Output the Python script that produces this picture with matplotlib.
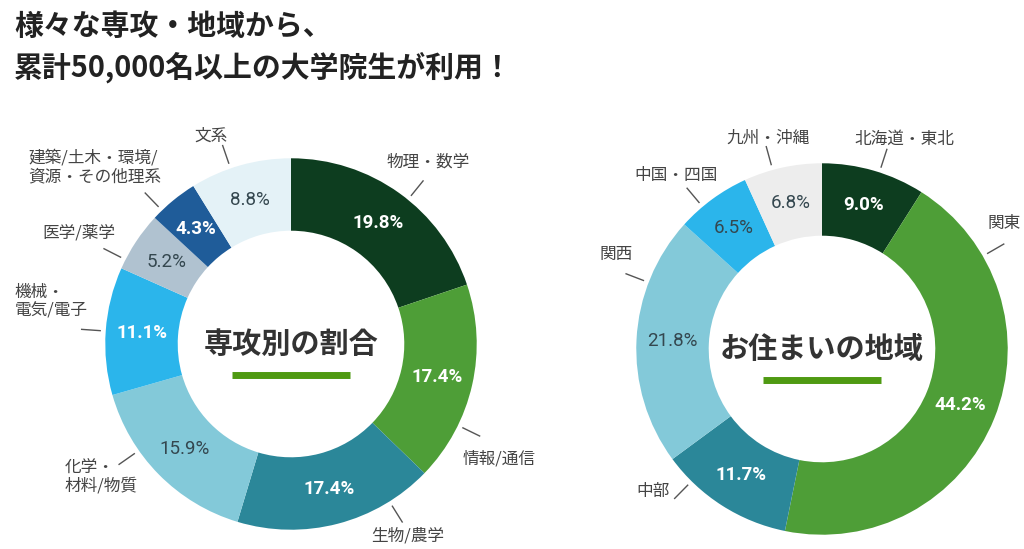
import numpy as np
import matplotlib
matplotlib.use("Agg")
import matplotlib.pyplot as plt

plt.rcParams['font.family'] = ['Noto Sans CJK JP', 'DejaVu Sans']

# 専攻別の割合
major_labels = ["物理・数学", "情報/通信", "生物/農学", "化学・\n材料/物質", "機械・\n電気/電子",
                "医学/薬学", "建築/土木・環境/\n資源・その他理系", "文系"]
major_values = [19.8, 17.4, 17.4, 15.9, 11.1, 5.2, 4.3, 8.8]
major_colors = ["#0d3d1f", "#4e9e37", "#2b8799", "#83c9d9", "#2bb5eb", "#b0c2d0", "#1f5c99", "#e4f2f7"]
major_pct_dark = [False, False, False, True, False, True, False, True]

# お住まいの地域
region_labels = ["北海道・東北", "関東", "中部", "関西", "中国・四国", "九州・沖縄"]
region_values = [9.0, 44.2, 11.7, 21.8, 6.5, 6.8]
region_colors = ["#0d3d1f", "#4e9e37", "#2b8799", "#83c9d9", "#2bb5eb", "#ededed"]
region_pct_dark = [False, False, False, True, True, True]

# label layout: (leader angle, text angle, text radius) - degrees clockwise from top
major_layout = [(39, 37, 1.23), (116, 119, 1.28), (148, 148.6, 1.21), (235, 235, 1.25),
                (274, 280, 1.31), (297, 297.5, 1.29), (316, 312, 1.42), (341, 339, 1.2)]
region_layout = [(18, 21.4, 1.21), (60, 55.4, 1.19), (224.6, 229.8, 1.19), (291, 294.7, 1.22),
                 (320, 320, 1.22), (344.6, 345.5, 1.17)]

W, H = 1024, 549
HALF = 260
LIM = 1.4
RING = 0.39


def polar(theta_deg, r):
    t = np.deg2rad(theta_deg)
    return r * np.sin(t), r * np.cos(t)


def donut(cx, cy, labels, values, colors, pct_dark, layout, title, ul_y):
    ax = plt.gcf().add_axes([(cx - HALF) / W, (H - cy - HALF) / H, 2 * HALF / W, 2 * HALF / H])
    wedges, _ = ax.pie(values, colors=colors, startangle=90, counterclock=False, radius=1,
                       wedgeprops=dict(width=RING, linewidth=0))
    ax.set_xlim(-LIM, LIM)
    ax.set_ylim(-LIM, LIM)
    ax.set_aspect("equal")
    ax.axis("off")
    total = sum(values)
    start = 0
    for i, v in enumerate(values):
        mid = (start + v / 2) / total * 360
        start += v
        x, y = polar(mid, 1 - RING / 2)
        if pct_dark[i]:
            ax.text(x, y, f"{v:.1f}%", ha="center", va="center", fontsize=13.5,
                    color="#34474f", family="Roboto")
        else:
            ax.text(x, y, f"{v:.1f}%", ha="center", va="center", fontsize=13.5,
                    color="white", family="Roboto", fontweight="bold")
        la, ta, tr = layout[i]
        x0, y0 = polar(la, 1.03)
        x1, y1 = polar(la, 1.13)
        ax.plot([x0, x1], [y0, y1], color="#555555", lw=1, clip_on=False)
        tx, ty = polar(ta, tr)
        ax.text(tx, ty, labels[i], ha="center", va="center", fontsize=12, color="#444444",
                multialignment="left", linespacing=1.1, clip_on=False)
    ax.text(0, 0, title, ha="center", va="center", fontsize=21, fontweight="bold", color="#333333")
    ax.plot([-0.32, 0.32], [ul_y, ul_y], color="#4f9a12", lw=5, solid_capstyle="butt")
    return ax


fig = plt.figure(figsize=(W / 100, H / 100), dpi=100)
donut(291, 344, major_labels, major_values, major_colors, major_pct_dark, major_layout,
      "専攻別の割合", -0.165)
donut(822, 349, region_labels, region_values, region_colors, region_pct_dark, region_layout,
      "お住まいの地域", -0.165)

fig.text(14 / W, 1 - 26 / H, "様々な専攻・地域から、", fontsize=20.8, fontweight="bold",
         color="#222222", va="center", ha="left")
fig.text(14 / W, 1 - 67 / H, "累計50,000名以上の大学院生が利用！", fontsize=20.8, fontweight="bold",
         color="#222222", va="center", ha="left")

fig.savefig("out.png", dpi=100, facecolor="white")
